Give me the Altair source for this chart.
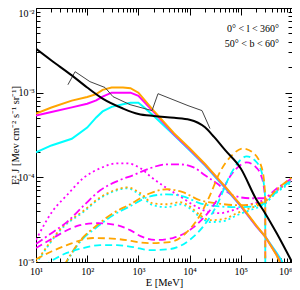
import altair as alt
import pandas as pd

# ---------------- data (E in MeV, E^2 J) ----------------
black_E = [10, 20, 50, 100, 200, 500, 1e3, 2e3, 5e3, 1e4, 2e4, 3e4, 5e4, 1e5, 2e5, 3e5, 5e5, 1e6]
black_J = [3.3e-3, 2.4e-3, 1.6e-3, 1.15e-3, 8.5e-4, 6.5e-4, 5.6e-4, 5.3e-4, 5.05e-4, 4.8e-4,
           3.9e-4, 3.0e-4, 2.08e-4, 1.27e-4, 5.5e-5, 3.75e-5, 2.2e-5, 1.0e-5]

gray_E = [42, 58, 113, 223, 319, 686, 1845, 2416, 9310, 17470, 25000]
gray_J = [1.24e-3, 1.77e-3, 1.35e-3, 1.15e-3, 8.97e-4, 7.22e-4, 6.14e-4, 9.73e-4, 7.03e-4, 6.14e-4, 3.77e-4]

orange_solid_E = [10, 20, 50, 100, 150, 200, 300, 500, 700, 1000, 2000, 5000, 1e4, 2e4, 5e4, 1e5, 2e5, 3e5, 5e5, 5.8e5]
orange_solid_J = [5.66e-4, 6.67e-4, 8.05e-4, 8.9e-4, 9.6e-4, 1.08e-3, 1.15e-3, 1.15e-3, 1.13e-3, 1.0e-3,
                  6.1e-4, 3.3e-4, 2.2e-4, 1.44e-4, 7.7e-5, 4.7e-5, 2.7e-5, 2.0e-5, 1.2e-5, 1.0e-5]
magenta_solid_E = [10, 20, 50, 100, 150, 200, 300, 500, 700, 1000, 2000, 5000, 1e4, 2e4, 5e4, 1e5, 2e5, 3e5, 5e5, 5.9e5]
magenta_solid_J = [5.36e-4, 5.9e-4, 6.7e-4, 7.4e-4, 8.1e-4, 9.0e-4, 1.0e-3, 1.0e-3, 1.0e-3, 9.2e-4,
                   5.9e-4, 3.2e-4, 2.14e-4, 1.41e-4, 7.6e-5, 4.6e-5, 2.65e-5, 1.99e-5, 1.22e-5, 1.0e-5]
cyan_solid_E = [10, 20, 50, 100, 150, 200, 300, 500, 700, 1000, 1300, 2000, 5000, 1e4, 2e4, 5e4, 1e5, 2e5, 3e5, 5e5, 6.5e5]
cyan_solid_J = [1.97e-4, 2.38e-4, 2.85e-4, 3.87e-4, 5.1e-4, 6.0e-4, 6.8e-4, 7.3e-4, 7.6e-4, 7.6e-4, 6.7e-4,
                5.3e-4, 3.13e-4, 2.08e-4, 1.38e-4, 7.43e-5, 4.56e-5, 2.65e-5, 1.99e-5, 1.28e-5, 1.0e-5]

magenta_dot_E = [10, 21, 40, 83, 180, 380, 600, 1100, 1700, 3600, 6500, 1.2e4, 2.5e4, 3.9e4, 7e4, 1.3e5, 2.7e5, 5.1e5, 1e6]
magenta_dot_J = [1.82e-5, 3.98e-5, 6.14e-5, 9.73e-5, 1.28e-4, 1.46e-4, 1.46e-4, 1.28e-4, 1.03e-4, 7.43e-5,
                 5.97e-5, 4.69e-5, 3.87e-5, 3.77e-5, 4.09e-5, 4.69e-5, 5.36e-5, 7.03e-5, 9.22e-5]
cyan_dot_E = [10, 34, 83, 180, 380, 600, 1100, 1900, 3600, 6500, 1.0e4, 1.6e4, 2.5e4, 4.5e4, 8.4e4, 1.5e5, 2.7e5, 5.1e5, 1e6]
cyan_dot_J = [9.5e-6, 2.58e-5, 3.87e-5, 5.66e-5, 7.03e-5, 7.43e-5, 6.14e-5, 4.69e-5, 4.44e-5, 4.81e-5,
              4.32e-5, 3.38e-5, 2.96e-5, 3.03e-5, 3.57e-5, 4.09e-5, 4.69e-5, 6.67e-5, 8.73e-5]
orange_dot_E = [10, 34, 83, 180, 380, 600, 1100, 1900, 3600, 6500, 1.0e4, 1.6e4, 2.5e4, 4.5e4, 8.4e4, 1.5e5, 2.7e5, 5.1e5, 1e6]
orange_dot_J = [9.8e-6, 2.65e-5, 3.98e-5, 5.8e-5, 7.2e-5, 7.6e-5, 6.49e-5, 4.94e-5, 4.81e-5, 5.08e-5,
                4.56e-5, 3.57e-5, 3.12e-5, 3.2e-5, 3.77e-5, 4.32e-5, 4.94e-5, 7.03e-5, 9.22e-5]

magenta_dd_E = [10, 20, 40, 83, 180, 380, 790, 1700, 3300, 6500, 1.2e4, 2.0e4, 3.4e4, 7.0e4, 1.5e5, 2.7e5, 5.1e5, 1e6]
magenta_dd_J = [1.63e-5, 2.19e-5, 2.96e-5, 4.56e-5, 7.03e-5, 8.97e-5, 1.06e-4, 1.28e-4, 1.42e-4, 1.42e-4,
                1.31e-4, 1.06e-4, 8.49e-5, 6.14e-5, 5.66e-5, 5.66e-5, 7.43e-5, 9.73e-5]
cyan_dd_E = [36, 72, 155, 320, 690, 1700, 3600, 7400, 1.6e4, 3.4e4, 8.4e4, 1.9e5, 2.95e5, 5.1e5, 1e6]
cyan_dd_J = [9e-6, 1.72e-5, 2.58e-5, 3.57e-5, 4.56e-5, 5.97e-5, 6.3e-5, 5.97e-5, 4.94e-5, 4.56e-5,
             4.44e-5, 4.56e-5, 4.94e-5, 6.85e-5, 9.22e-5]
orange_dd_E = [35, 72, 155, 320, 690, 1700, 3600, 7400, 1.6e4, 3.4e4, 8.4e4, 1.9e5, 2.95e5, 5.1e5, 1e6]
orange_dd_J = [9e-6, 1.77e-5, 2.72e-5, 3.77e-5, 4.81e-5, 6.49e-5, 7.23e-5, 6.67e-5, 5.36e-5, 4.94e-5,
               4.69e-5, 4.81e-5, 5.22e-5, 7.23e-5, 1.0e-4]

magenta_dash_E = [10, 20, 34, 72, 155, 380, 690, 1100, 2300, 4700, 1.2e4, 2.5e4, 3.9e4, 6.2e4, 9.6e4,
                  1.3e5, 1.9e5, 2.6e5, 2.84e5, 3.0e5, 3.01e5]
magenta_dash_J = [1.46e-5, 1.87e-5, 2.25e-5, 2.72e-5, 2.88e-5, 2.72e-5, 2.38e-5, 2.02e-5, 1.82e-5, 1.92e-5,
                  2.58e-5, 4.09e-5, 6.14e-5, 1.03e-4, 1.38e-4, 1.50e-4, 1.35e-4, 9.73e-5, 7.43e-5, 5.36e-5, 5e-6]
cyan_dash_E = [14, 40, 83, 180, 380, 790, 1700, 4100, 1.0e4, 1.8e4, 3.4e4, 6.2e4, 9.6e4, 1.3e5, 1.9e5,
               2.6e5, 2.84e5, 3.0e5, 3.01e5]
cyan_dash_J = [9e-6, 1.28e-5, 1.46e-5, 1.58e-5, 1.58e-5, 1.50e-5, 1.38e-5, 1.42e-5, 1.82e-5, 2.58e-5,
               4.69e-5, 1.06e-4, 1.58e-4, 1.77e-4, 1.58e-4, 1.11e-4, 8.05e-5, 5.36e-5, 5e-6]
orange_dash_E = [10, 20, 40, 130, 380, 1700, 4100, 8100, 1.6e4, 2.5e4, 3.9e4, 6.7e4, 1.1e5, 1.7e5, 2.4e5,
                 2.84e5, 3.0e5, 3.01e5]
orange_dash_J = [1.08e-5, 1.33e-5, 1.58e-5, 1.92e-5, 1.87e-5, 1.67e-5, 1.72e-5, 2.14e-5, 3.57e-5, 6.14e-5,
                 1.15e-4, 1.82e-4, 2.19e-4, 1.97e-4, 1.46e-4, 9.22e-5, 5.36e-5, 5e-6]

ann_E = [5.6e5, 5.6e5]
ann_J = [5.66e-3, 3.77e-3]
ann_text = ["0\u00b0 < l < 360\u00b0", "50\u00b0 < b < 60\u00b0"]

x_major = [10, 100, 1000, 10000, 100000, 1000000]
x_major_labels = ["10\u00b9", "10\u00b2", "10\u00b3", "10\u2074", "10\u2075", "10\u2076"]
y_major = [1e-5, 1e-4, 1e-3, 1e-2]
y_major_labels = ["10\u207b\u2075", "10\u207b\u2074", "10\u207b\u00b3", "10\u207b\u00b2"]

x_title = "E [MeV]"
y_title = "E\u00b2 J [Mev cm\u207b\u00b2 s\u207b\u00b9 sr\u207b\u00b9]"

ORANGE, MAGENTA, CYAN = "#ffa500", "#ff00ff", "#00ffff"

# ---------------- chart ----------------
W, H = 256, 254
FONT = "Liberation Serif"

xscale = alt.Scale(type="log", domain=[10, 1e6], nice=False)
yscale = alt.Scale(type="log", domain=[1e-5, 1e-2], nice=False)

x_ticks = [k * 10 ** d for d in range(1, 6) for k in range(1, 10)] + [10 ** 6]
y_ticks = [k * 10.0 ** d for d in range(-5, -2) for k in range(1, 10)] + [1e-2]

major = "abs(log(datum.value)/LN10 - round(log(datum.value)/LN10)) < 1e-6"
tick_size = {"condition": {"test": major, "value": 7}, "value": 4}


def label_expr(vals, labels):
    expr = "''"
    for v, l in reversed(list(zip(vals, labels))):
        expr = f"abs(datum.value/{v!r} - 1) < 1e-6 ? '{l}' : ({expr})"
    return expr


common = dict(grid=False, domainColor="black", tickColor="black", labelColor="black", titleColor="black")

x_axes = [
    alt.Axis(orient="bottom", values=x_ticks, labelExpr=label_expr(x_major, x_major_labels), ticks=False,
             title=x_title, labelPadding=4, titlePadding=1, labelFlush=False, labelOverlap=False,
             labelAlign={"condition": {"test": "datum.value > 5e5", "value": "right"}, "value": "center"},
             **common),
    alt.Axis(orient="top", offset=-H, values=x_ticks, labels=False, domain=False, tickSize=tick_size,
             title=None, **common),
    alt.Axis(orient="bottom", offset=-H, values=x_ticks, labels=False, domain=False, tickSize=tick_size,
             title=None, **common),
    alt.Axis(orient="top", values=x_ticks, labels=False, ticks=False, title=None, **common),
]
y_axes = [
    alt.Axis(orient="left", values=y_ticks, labelExpr=label_expr(y_major, y_major_labels), ticks=False,
             title=y_title, labelPadding=2, titleX=-16, titleBaseline="bottom",
             labelOffset={"condition": {"test": "datum.value > 0.005", "value": 5}, "value": 0},
             labelFlush=False, labelOverlap=False, **common),
    alt.Axis(orient="right", offset=-W, values=y_ticks, labels=False, domain=False, tickSize=tick_size,
             title=None, **common),
    alt.Axis(orient="left", offset=-W, values=y_ticks, labels=False, domain=False, tickSize=tick_size,
             title=None, **common),
    alt.Axis(orient="right", values=y_ticks, labels=False, ticks=False, title=None, **common),
]

DASH = [7, 4]
DOT = [2, 3]
DASHDOT = [8, 3, 2, 3]

series = [
    (magenta_dot_E, magenta_dot_J, MAGENTA, 1.8, DOT, "monotone"),
    (cyan_dot_E, cyan_dot_J, CYAN, 1.8, DOT, "monotone"),
    (orange_dot_E, orange_dot_J, ORANGE, 1.8, DOT, "monotone"),
    (magenta_dd_E, magenta_dd_J, MAGENTA, 1.8, DASHDOT, "monotone"),
    (cyan_dd_E, cyan_dd_J, CYAN, 1.8, DASHDOT, "monotone"),
    (orange_dd_E, orange_dd_J, ORANGE, 1.8, DASHDOT, "monotone"),
    (magenta_dash_E, magenta_dash_J, MAGENTA, 1.8, DASH, "monotone"),
    (cyan_dash_E, cyan_dash_J, CYAN, 1.8, DASH, "monotone"),
    (orange_dash_E, orange_dash_J, ORANGE, 1.8, DASH, "monotone"),
    (cyan_solid_E, cyan_solid_J, CYAN, 2, None, "linear"),
    (magenta_solid_E, magenta_solid_J, MAGENTA, 2, None, "linear"),
    (orange_solid_E, orange_solid_J, ORANGE, 2, None, "linear"),
    (gray_E, gray_J, "#444444", 1, None, "linear"),
    (black_E, black_J, "black", 2, None, "monotone"),
]

layers = []
for i, (E, J, color, width, dash, interp) in enumerate(series):
    df = pd.DataFrame({"E": E, "J": J})
    mk = dict(color=color, strokeWidth=width, interpolate=interp, clip=True)
    if dash:
        mk["strokeDash"] = dash
    ax = x_axes[i] if i < len(x_axes) else None
    ay = y_axes[i] if i < len(y_axes) else None
    layers.append(
        alt.Chart(df).mark_line(**mk).encode(
            x=alt.X("E:Q", scale=xscale, axis=ax),
            y=alt.Y("J:Q", scale=yscale, axis=ay),
        )
    )

ann = pd.DataFrame({"E": ann_E, "J": ann_J, "t": ann_text})
layers.append(
    alt.Chart(ann).mark_text(align="right", baseline="middle", font=FONT, fontSize=10, color="black").encode(
        x=alt.X("E:Q", scale=xscale, axis=None),
        y=alt.Y("J:Q", scale=yscale, axis=None),
        text="t:N",
    )
)

chart = (
    alt.layer(*layers)
    .resolve_axis(x="independent", y="independent")
    .properties(width=W, height=H, autosize=alt.AutoSizeParams(type="none"),
                padding={"left": 28, "top": 0, "right": 0, "bottom": 30})
    .configure_view(stroke=None)
    .configure_axis(labelFont=FONT, titleFont=FONT, labelFontSize=10, titleFontSize=10.5,
                    titleFontWeight="normal", domainWidth=1, tickWidth=1)
)

chart.save("out.html", embed_options={"renderer": "svg", "actions": False})
